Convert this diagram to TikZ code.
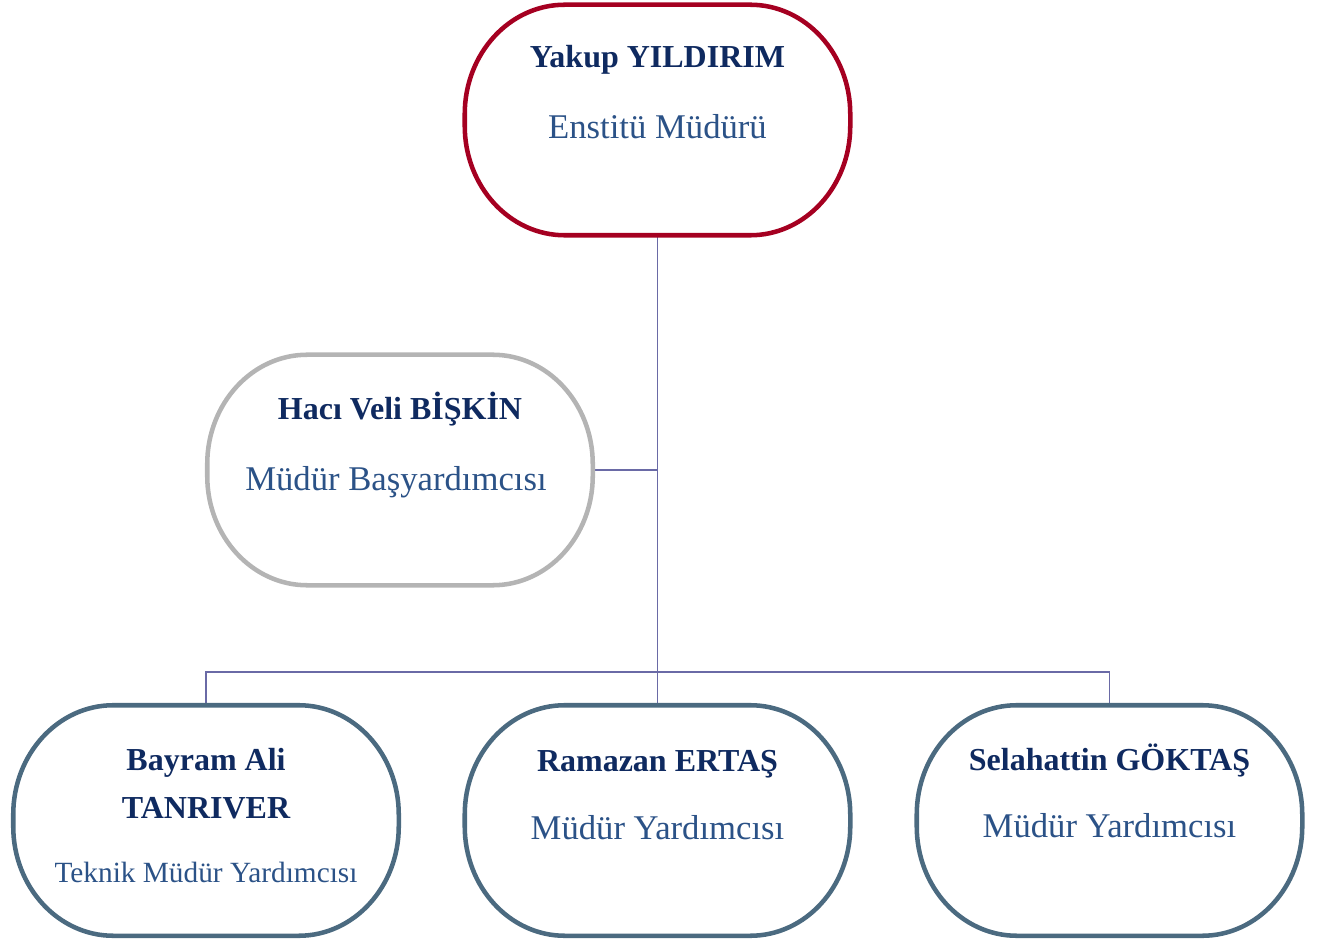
\documentclass[tikz,border=0pt]{standalone}
\usepackage{fontspec}
\setmainfont{Liberation Serif}
\usetikzlibrary{backgrounds}
\definecolor{topred}{HTML}{A50021}
\definecolor{midgray}{HTML}{B4B4B4}
\definecolor{slate}{HTML}{4B6A80}
\definecolor{linkc}{HTML}{6A6AA6}
\definecolor{namec}{HTML}{0F2A60}
\definecolor{rolec}{HTML}{2B5287}
\tikzset{
  box/.style={draw=none, minimum width=288.75pt, minimum height=172.5pt, inner sep=0pt},
  ovalline/.style={line width=3.4pt, fill=white},
  nametext/.style={anchor=base, inner sep=0pt, text=namec, font=\fontsize{24}{28}\selectfont\bfseries},
  roletext/.style={anchor=base, inner sep=0pt, text=rolec, font=\fontsize{26}{30}\selectfont},
  smallrole/.style={anchor=base, inner sep=0pt, text=rolec, font=\fontsize{22}{26}\selectfont},
  link/.style={draw=linkc, line width=1.4pt}
}
\newcommand\ovalshape[2]{%
  \draw[ovalline, draw=#2]
    ([xshift=75pt]#1.north west) -- ([xshift=-75pt]#1.north east)
    arc[start angle=90, end angle=0, x radius=75pt, y radius=82pt]
    -- ([yshift=82pt]#1.south east)
    arc[start angle=0, end angle=-90, x radius=75pt, y radius=82pt]
    -- ([xshift=75pt]#1.south west)
    arc[start angle=-90, end angle=-180, x radius=75pt, y radius=82pt]
    -- ([yshift=-82pt]#1.north west)
    arc[start angle=180, end angle=90, x radius=75pt, y radius=82pt]
    -- cycle;}
\begin{document}
\begin{tikzpicture}[x=0.75pt, y=-0.75pt]
\useasboundingbox (0,0) rectangle (1327,944);
\node[box] (top) at (657.5,120) {};
\node[box] (mid) at (400,470) {};
\node[box] (bl) at (206,820.5) {};
\node[box] (bm) at (657.5,820.5) {};
\node[box] (br) at (1109.5,820.5) {};
\coordinate (bus) at (657.5,672);
\coordinate (join) at (657.5,470);
\draw[link] (top.south) -- (bm.north);
\draw[link] (mid.east) -- (join);
\draw[link] (bl.north) |- (bus) -| (br.north);
\ovalshape{top}{topred}
\ovalshape{mid}{midgray}
\ovalshape{bl}{slate}
\ovalshape{bm}{slate}
\ovalshape{br}{slate}
\node[nametext] (n1) at (657.5,68) {Yakup YILDIRIM};
\node[roletext] (r1) at (657.5,139) {Enstitü Müdürü};
\node[nametext] (n2) at (400,420) {Hacı Veli BİŞKİN};
\node[roletext] (r2) at (396,490) {Müdür Başyardımcısı};
\node[nametext] (n3a) at (206,770) {Bayram Ali};
\node[nametext] (n3b) at (206,818) {TANRIVER};
\node[smallrole] (r3) at (206,882) {Teknik Müdür Yardımcısı};
\node[nametext] (n4) at (657.5,771) {Ramazan ERTAŞ};
\node[roletext] (r4) at (657.5,839) {Müdür Yardımcısı};
\node[nametext] (n5) at (1109.5,770) {Selahattin GÖKTAŞ};
\node[roletext] (r5) at (1109.5,837) {Müdür Yardımcısı};
\end{tikzpicture}
\end{document}
